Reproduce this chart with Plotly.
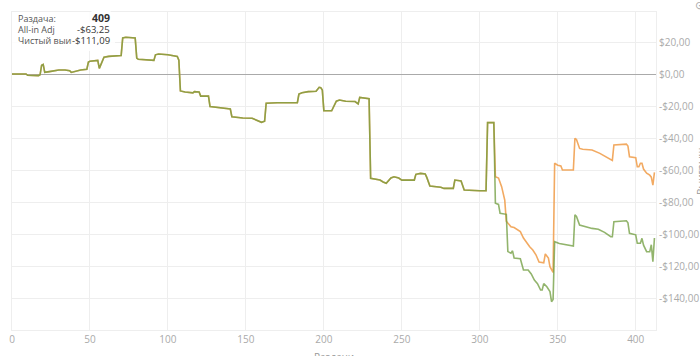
import plotly.graph_objects as go

# ---- data (hand number breakpoints) ----
shared_hands = [0, 9, 10, 17, 18, 19, 20, 21, 24, 27, 30, 34, 37, 38, 40, 44, 48, 49, 50, 55, 56, 57, 59, 62,
                70, 71, 73, 79, 80, 81, 86, 91, 92, 94, 100, 105, 106, 107, 108, 111, 116, 117, 120, 121, 126,
                127, 133, 139, 140, 141, 148, 154, 156, 160, 162, 163, 170, 175, 183, 184, 186, 190, 195, 197,
                198, 199, 200, 205, 208, 210, 214, 220, 222, 223, 226, 229, 230, 236, 238, 240, 243, 245, 248,
                250, 258, 259, 262, 265, 266, 268, 275, 277, 283, 284, 288, 290, 300, 304, 305, 309]
shared_values = [0, 0, -0.8, -1, -0.5, 5.5, 6, 1, 1.5, 2, 2.5, 2.5, 2, 1, 1.5, 2.5, 3, 7.5, 8, 8.5, 3.5, 6, 10.5, 11,
                 11.5, 22.5, 23, 22.5, 10, 9.2, 8.8, 8.5, 12, 12.5, 12, 11.5, 11, 8.7, -10.6, -11.2, -11.8, -11, -11.2, -13.8, -13.8,
                 -20.4, -21, -21.4, -21.8, -26.7, -27.5, -27.7, -28.7, -30.2, -29.5, -18.3, -18, -17.9, -17.9, -12.5, -11.7, -11, -10.8, -8.3,
                 -8.5, -10, -22.9, -23, -17, -16.3, -17, -17.2, -18.7, -14.6, -15, -15.5, -65.2, -66.3, -67.5, -68.3, -65, -64.2, -65,
                 -66.3, -66.3, -62.7, -62.1, -62.5, -64.6, -70, -70.8, -71.5, -71.5, -66.3, -66.8, -72.5, -73, -73, -30.4, -30.4]

net_hands = [310, 312, 313, 317, 318, 320, 321, 322, 326, 328, 331, 333, 335, 337, 339, 340, 341, 343, 345, 346, 347,
             348, 351, 356, 360, 361, 362, 364, 366, 372, 376, 380, 384, 385, 386, 394, 395, 396, 400, 401, 403, 404,
             405, 407, 409, 410, 411, 412]
net_values = [-80.8, -81.5, -87, -87.7, -111, -112, -110.5, -115, -115.5, -122.5, -122.5, -125, -128.8, -131, -135, -135, -131, -133, -136, -142.3, -141,
              -104.8, -106, -106.9, -107.5, -88, -89, -94.4, -95, -96.5, -97, -99, -101.7, -101.7, -92.3, -91.7, -93, -99.6, -100.5, -105.8, -105.8, -102.7,
              -107, -111, -111.09, -106.7, -117.3, -102.5]

adj_hands = [310, 312, 314, 316, 317, 318, 320, 322, 326, 328, 330, 332, 334, 336, 338, 341, 342, 344, 345, 347,
             348, 350, 352, 353, 360, 361, 362, 364, 366, 372, 377, 384, 385, 386, 394, 395, 396, 400, 401, 402, 403, 404,
             405, 407, 409, 410, 411, 412]
adj_values = [-64.2, -65, -70.4, -78.8, -92, -93, -95.5, -96, -98.5, -102.5, -105.6, -108, -110, -113, -117.5, -118, -112.5, -115, -120.4, -124,
              -55.8, -57, -57.5, -60, -60, -40.2, -41, -46.5, -47, -47.5, -49.6, -53.8, -54, -44.4, -43.8, -45, -51.7, -52.3, -58, -58, -55.8, -55.8,
              -59.4, -62, -63.25, -64.5, -69.4, -61.5]

x_ticks = [0, 50, 100, 150, 200, 250, 300, 350, 400]
y_ticks = [20, 0, -20, -40, -60, -80, -100, -120, -140]
y_tick_labels = ["$20,00", "$0,00", "-$20,00", "-$40,00", "-$60,00", "-$80,00", "-$100,00", "-$120,00", "-$140,00"]

hover_hand = 409

# ---- build ----
net_x = shared_hands + net_hands
net_y = shared_values + net_values
adj_x = shared_hands + adj_hands
adj_y = shared_values + adj_values


def money(v):
    s = f"{abs(v):.2f}".replace(".", ",")
    return ("-$" if v < 0 else "$") + s


fig = go.Figure()
fig.add_trace(go.Scatter(x=adj_x, y=adj_y, mode="lines", name="All-in Adj",
                         line=dict(color="#f2a65a", width=1.6), opacity=0.95))
fig.add_trace(go.Scatter(x=net_x, y=net_y, mode="lines", name="Чистый выигрыш",
                         line=dict(color="#6e9c3c", width=1.6), opacity=0.75))

W0, W1, H0, H1 = 12, 656, 12, 330
PW, PH = W1 - W0, H1 - H0


def px(x):
    return (x - W0) / PW


def py(y):
    return (H1 - y) / PH


fig.update_layout(
    width=700, height=356,
    margin=dict(l=W0, r=700 - W1, t=H0, b=356 - H1, autoexpand=False),
    paper_bgcolor="white", plot_bgcolor="white",
    showlegend=False,
    font=dict(family="Open Sans, Noto Sans, sans-serif", color="#999"),
)
fig.update_xaxes(range=[0, 413], tickvals=x_ticks, ticktext=[str(t) for t in x_ticks],
                 showgrid=True, gridcolor="#eeeeee", gridwidth=1, zeroline=False,
                 showline=True, linecolor="#eeeeee", mirror=True,
                 tickfont=dict(size=10, color="#aaaaaa"), ticks="", ticklen=0)
fig.update_yaxes(range=[-160, 38.75], side="right", tickvals=y_ticks, ticktext=y_tick_labels,
                 showgrid=True, gridcolor="#eeeeee", gridwidth=1,
                 zeroline=True, zerolinecolor="#aaaaaa", zerolinewidth=1,
                 showline=True, linecolor="#eeeeee", mirror=True,
                 tickfont=dict(size=10, color="#aaaaaa"), ticks="", ticklen=5, tickcolor="white")

# tooltip box
net_at = net_y[net_x.index(hover_hand)]
adj_at = adj_y[adj_x.index(hover_hand)]
fig.add_shape(type="rect", xref="paper", yref="paper", x0=0, x1=px(115), y0=py(51), y1=1,
              fillcolor="rgba(255,255,255,0.85)", line=dict(width=0), layer="above")
rows = [("Раздача:", str(hover_hand), True, 18),
        ("All-in Adj", money(adj_at), False, 30),
        ("Чистый выигрыш:", money(net_at), False, 41)]
for label, val, bold, yy in rows:
    fig.add_annotation(xref="paper", yref="paper", x=px(16), y=py(yy), xanchor="left", yanchor="middle",
                       text=label, showarrow=False, font=dict(size=9, color="#555555"))
for label, val, bold, yy in rows:
    fig.add_annotation(xref="paper", yref="paper", x=px(111), y=py(yy), xanchor="right", yanchor="middle",
                       text=f"<b>{val}</b>" if bold else val, showarrow=False,
                       bgcolor="white", borderpad=0,
                       font=dict(size=10.5 if bold else 9.5, color="#333333"))

# axis titles (partly cut off at the window edge)
fig.add_annotation(xref="paper", yref="paper", x=px(334), y=py(348), xanchor="center", yanchor="top",
                   text="Раздачи", showarrow=False, font=dict(size=10, color="#999999"))
fig.add_annotation(xref="paper", yref="paper", x=px(692), y=0.5, xanchor="left", yanchor="middle",
                   text="Выигрыш", textangle=-90, showarrow=False, font=dict(size=10, color="#999999"))
fig.add_annotation(xref="paper", yref="paper", x=px(693), y=py(5), xanchor="left", yanchor="middle",
                   text="⊙", showarrow=False, font=dict(size=11, color="#aaaaaa"))

fig.write_html("out.html")
